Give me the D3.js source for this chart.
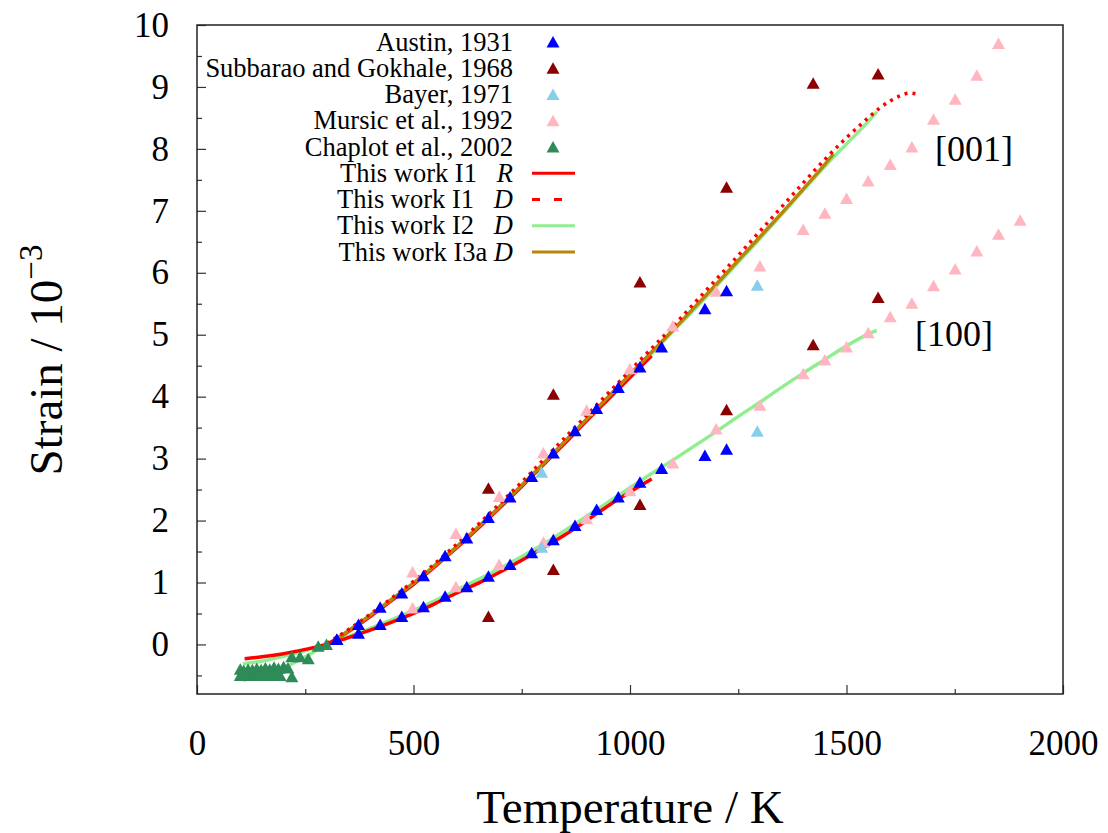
<!DOCTYPE html>
<html>
<head>
<meta charset="utf-8">
<script src="https://cdn.jsdelivr.net/npm/d3@7"></script>
<style>
  body { margin: 0; background: #fff; }
  text { font-family: 'Liberation Serif', Tinos, 'Nimbus Roman', 'Times New Roman', Times, 'DejaVu Serif', serif; fill: #000; }
  .legend-text { white-space: pre; }
</style>
</head>
<body>
<svg id="svg-chart" width="1108" height="833"></svg>
<script>
//////////////////////////////////////////////////////////////////////////////////////////
// Data
//////////////////////////////////////////////////////////////////////////////////////////
var x_ticks = [0, 500, 1000, 1500, 2000]
var x_minor_ticks = [250, 750, 1250, 1750]
var y_ticks = [0, 1, 2, 3, 4, 5, 6, 7, 8, 9, 10]
var y_minor_ticks = [-0.5, 0.5, 1.5, 2.5, 3.5, 4.5, 5.5, 6.5, 7.5, 8.5, 9.5]

// Austin, 1931
var austin_t = [323, 373, 423, 473, 523, 573, 623, 673, 723, 773, 823, 873, 923, 973, 1023, 1073, 1173, 1223]
var austin_001 = [0.08, 0.32, 0.60, 0.83, 1.11, 1.43, 1.72, 2.05, 2.38, 2.71, 3.09, 3.45, 3.81, 4.15, 4.48, 4.80, 5.42, 5.71]
var austin_100 = [0.08, 0.18, 0.32, 0.45, 0.61, 0.78, 0.93, 1.10, 1.29, 1.48, 1.69, 1.92, 2.18, 2.38, 2.62, 2.84, 3.05, 3.15]

// Subbarao and Gokhale, 1968
var subbarao_t = [673, 823, 1023, 1223, 1423, 1573]
var subbarao_001 = [2.52, 4.04, 5.85, 7.38, 9.06, 9.21]
var subbarao_100 = [0.45, 1.21, 2.26, 3.79, 4.84, 5.60]

// Bayer, 1971
var bayer_t = [796, 1294]
var bayer_001 = [2.78, 5.80]
var bayer_100 = [1.57, 3.44]

// Mursic et al., 1992
var mursic_t_001 = [498, 598, 698, 800, 900, 1000, 1099, 1199, 1300, 1400, 1450, 1500, 1550, 1601, 1651, 1701, 1751, 1801, 1851]
var mursic_001 = [1.17, 1.79, 2.39, 3.09, 3.78, 4.45, 5.14, 5.70, 6.11, 6.70, 6.96, 7.20, 7.48, 7.75, 8.03, 8.48, 8.80, 9.19, 9.70]
var mursic_t_100 = [498, 598, 698, 800, 900, 1000, 1099, 1199, 1300, 1400, 1450, 1500, 1550, 1601, 1651, 1701, 1751, 1801, 1851, 1901]
var mursic_100 = [0.59, 0.93, 1.29, 1.65, 2.03, 2.48, 2.93, 3.48, 3.86, 4.37, 4.59, 4.80, 5.03, 5.29, 5.51, 5.79, 6.06, 6.35, 6.62, 6.85]

// Chaplot et al., 2002
var chaplot_t = [100, 112, 126, 140, 153, 166, 180, 192, 219, 100, 108, 118, 128, 138, 148, 158, 168, 178, 188, 200, 210, 219, 238, 257, 280, 299]
var chaplot_s = [-0.50, -0.49, -0.50, -0.49, -0.50, -0.48, -0.50, -0.50, -0.52, -0.40, -0.42, -0.40, -0.41, -0.39, -0.41, -0.38, -0.40, -0.37, -0.39, -0.36, -0.38, -0.20, -0.20, -0.23, -0.03, 0.00]

// This work I1 R
var i1r_t_001 = [300, 350, 400, 450, 500, 550, 600, 650, 700, 750, 800, 850, 900, 950, 1000, 1050]
var i1r_001 = [0.00, 0.21, 0.45, 0.71, 0.97, 1.26, 1.56, 1.88, 2.21, 2.55, 2.90, 3.25, 3.61, 3.96, 4.31, 4.66]
var i1r_t_100 = [110, 150, 200, 250, 300, 350, 400, 450, 500, 550, 600, 650, 700, 750, 800, 850, 900, 950, 1000, 1050]
var i1r_100 = [-0.23, -0.20, -0.15, -0.08, 0.00, 0.11, 0.23, 0.36, 0.50, 0.66, 0.83, 0.99, 1.17, 1.36, 1.56, 1.77, 2.00, 2.24, 2.46, 2.67]

// This work I1 D
var i1d_t_001 = [300, 350, 400, 450, 500, 550, 600, 650, 700, 750, 800, 850, 900, 950, 1000, 1050, 1100, 1150, 1200, 1250, 1300, 1350, 1400, 1450, 1500, 1550, 1575, 1600, 1625, 1645, 1666]
var i1d_001 = [0.02, 0.24, 0.49, 0.75, 1.02, 1.31, 1.62, 1.94, 2.28, 2.62, 2.98, 3.34, 3.70, 4.06, 4.42, 4.78, 5.14, 5.52, 5.90, 6.28, 6.67, 7.06, 7.45, 7.83, 8.18, 8.50, 8.65, 8.77, 8.86, 8.90, 8.88]

// This work I2 D
var i2d_t_001 = [106, 150, 200, 250, 300, 350, 400, 450, 500, 550, 600, 650, 700, 750, 800, 850, 900, 950, 1000, 1050, 1100, 1150, 1200, 1250, 1300, 1350, 1400, 1450, 1500, 1550, 1570]
var i2d_001 = [-0.58, -0.50, -0.38, -0.20, 0.00, 0.22, 0.47, 0.73, 0.99, 1.28, 1.58, 1.90, 2.23, 2.57, 2.92, 3.28, 3.63, 3.98, 4.34, 4.70, 5.06, 5.42, 5.79, 6.17, 6.55, 6.94, 7.33, 7.72, 8.08, 8.44, 8.60]
var i2d_t_100 = [106, 150, 200, 250, 300, 350, 400, 450, 500, 550, 600, 650, 700, 750, 800, 850, 900, 950, 1000, 1050, 1100, 1150, 1200, 1250, 1300, 1350, 1400, 1450, 1500, 1550, 1570]
var i2d_100 = [-0.31, -0.27, -0.19, -0.10, 0.01, 0.13, 0.26, 0.40, 0.55, 0.71, 0.88, 1.05, 1.23, 1.42, 1.62, 1.84, 2.07, 2.30, 2.53, 2.76, 2.98, 3.21, 3.44, 3.68, 3.91, 4.15, 4.38, 4.60, 4.82, 5.01, 5.07]

// This work I3a D
var i3a_t_001 = [320, 350, 400, 450, 500, 550, 600, 650, 700, 750, 800, 850, 900, 950, 1000, 1050, 1100, 1150, 1200, 1250, 1300, 1350, 1400, 1450, 1470]
var i3a_001 = [0.08, 0.22, 0.47, 0.73, 0.99, 1.28, 1.58, 1.90, 2.23, 2.57, 2.92, 3.28, 3.64, 4.00, 4.36, 4.72, 5.08, 5.45, 5.82, 6.20, 6.58, 6.96, 7.35, 7.75, 7.92]

//////////////////////////////////////////////////////////////////////////////////////////
// Layout
//////////////////////////////////////////////////////////////////////////////////////////
var font = "'Liberation Serif', Tinos, 'Nimbus Roman', 'Times New Roman', Times, 'DejaVu Serif', serif"
var frame = {'left': 197, 'right': 1063, 'top': 25, 'bottom': 694}

var x = d3.scaleLinear().domain([0, 2000]).range([frame['left'], frame['right']])
var y = d3.scaleLinear().domain([-0.8, 10]).range([frame['bottom'], frame['top']])

var colors = {
  'austin': '#0000ff',
  'subbarao': '#8b0000',
  'bayer': '#87ceeb',
  'mursic': '#ffb6c1',
  'chaplot': '#2e8b57',
  'i1': '#ff0000',
  'i2': '#90ee90',
  'i3a': '#b8860b'
}

var svg = d3.select('#svg-chart')

function zip(ts, ss) {
  return ts.map(function(t, i) { return [t, ss[i]] })
}

var triangle = 'M0,-6 L6.5,5.5 L-6.5,5.5 Z'

//////////////////////////////////////////////////////////////////////////////////////////
// Draw
//////////////////////////////////////////////////////////////////////////////////////////
draw_axes()
draw_lines()
draw_points()
draw_frame()
draw_legend()
draw_labels()

function draw_axes() {
  var g_x = svg.append('g').attr('transform', 'translate(0,' + frame['bottom'] + ')')
  g_x.call(d3.axisBottom(x).tickValues(x_ticks).tickFormat(d3.format('d')).tickSize(-9).tickPadding(36))
  g_x.append('g').call(d3.axisBottom(x).tickValues(x_minor_ticks).tickSize(-5).tickFormat(''))

  var g_y = svg.append('g').attr('transform', 'translate(' + frame['left'] + ',0)')
  g_y.call(d3.axisLeft(y).tickValues(y_ticks).tickFormat(d3.format('d')).tickSize(-9).tickPadding(28))
  g_y.append('g').call(d3.axisLeft(y).tickValues(y_minor_ticks).tickSize(-5).tickFormat(''))

  svg.selectAll('.domain').remove()
  svg.selectAll('g').attr('font-family', null)
  svg.selectAll('.tick line').attr('stroke', '#333').attr('stroke-width', 1.2)
  svg.selectAll('.tick text')
    .style('font-family', font)
    .attr('font-size', 35)
}

function draw_lines() {
  var line = d3.line()
    .x(function(d) { return x(d[0]) })
    .y(function(d) { return y(d[1]) })
    .curve(d3.curveMonotoneX)

  var series = [
    {'data': zip(i2d_t_001, i2d_001), 'color': colors['i2'], 'dash': null},
    {'data': zip(i2d_t_100, i2d_100), 'color': colors['i2'], 'dash': null},
    {'data': zip(i1r_t_001, i1r_001), 'color': colors['i1'], 'dash': null},
    {'data': zip(i1r_t_100, i1r_100), 'color': colors['i1'], 'dash': null},
    {'data': zip(i3a_t_001, i3a_001), 'color': colors['i3a'], 'dash': null},
    {'data': zip(i1d_t_001, i1d_001), 'color': colors['i1'], 'dash': '3 5'}
  ]

  svg.append('g')
    .selectAll('path')
    .data(series)
    .enter()
    .append('path')
    .attr('d', function(d) { return line(d.data) })
    .attr('fill', 'none')
    .attr('stroke', function(d) { return d.color })
    .attr('stroke-width', 3.5)
    .attr('stroke-dasharray', function(d) { return d.dash })
}

function draw_points() {
  var sets = [
    {'data': zip(mursic_t_001, mursic_001).concat(zip(mursic_t_100, mursic_100)), 'color': colors['mursic']},
    {'data': zip(bayer_t, bayer_001).concat(zip(bayer_t, bayer_100)), 'color': colors['bayer']},
    {'data': zip(subbarao_t, subbarao_001).concat(zip(subbarao_t, subbarao_100)), 'color': colors['subbarao']},
    {'data': zip(chaplot_t, chaplot_s), 'color': colors['chaplot']},
    {'data': zip(austin_t, austin_001).concat(zip(austin_t, austin_100)), 'color': colors['austin']}
  ]

  sets.forEach(function(set) {
    svg.append('g')
      .selectAll('path')
      .data(set.data)
      .enter()
      .append('path')
      .attr('d', triangle)
      .attr('transform', function(d) { return 'translate(' + x(d[0]) + ',' + y(d[1]) + ')' })
      .attr('fill', set.color)
  })
}

function draw_frame() {
  svg.append('rect')
    .attr('x', frame['left'])
    .attr('y', frame['top'])
    .attr('width', frame['right'] - frame['left'])
    .attr('height', frame['bottom'] - frame['top'])
    .attr('fill', 'none')
    .attr('stroke', '#222')
    .attr('stroke-width', 1.5)
}

function draw_legend() {
  var rows = [
    {'label': 'Austin, 1931', 'italic': '', 'kind': 'point', 'color': colors['austin']},
    {'label': 'Subbarao and Gokhale, 1968', 'italic': '', 'kind': 'point', 'color': colors['subbarao']},
    {'label': 'Bayer, 1971', 'italic': '', 'kind': 'point', 'color': colors['bayer']},
    {'label': 'Mursic et al., 1992', 'italic': '', 'kind': 'point', 'color': colors['mursic']},
    {'label': 'Chaplot et al., 2002', 'italic': '', 'kind': 'point', 'color': colors['chaplot']},
    {'label': 'This work I1   ', 'italic': 'R', 'kind': 'line', 'color': colors['i1']},
    {'label': 'This work I1   ', 'italic': 'D', 'kind': 'dash', 'color': colors['i1']},
    {'label': 'This work I2   ', 'italic': 'D', 'kind': 'line', 'color': colors['i2']},
    {'label': 'This work I3a ', 'italic': 'D', 'kind': 'line', 'color': colors['i3a']}
  ]

  var g = svg.append('g').attr('id', 'g-legend')

  rows.forEach(function(row, i) {
    var cy = 42 + i * 26.25
    var txt = g.append('text')
      .attr('class', 'legend-text')
      .attr('x', 513)
      .attr('y', cy + 8.5)
      .attr('text-anchor', 'end')
      .attr('font-size', 26.5)
    txt.append('tspan').text(row.label)
    if (row.italic) txt.append('tspan').attr('font-style', 'italic').text(row.italic)

    if (row.kind == 'point') {
      g.append('path')
        .attr('d', triangle)
        .attr('transform', 'translate(553,' + cy + ')')
        .attr('fill', row.color)
    } else {
      g.append('line')
        .attr('x1', 532).attr('x2', 575)
        .attr('y1', cy).attr('y2', cy)
        .attr('stroke', row.color)
        .attr('stroke-width', 3)
        .attr('stroke-dasharray', row.kind == 'dash' ? '8 14' : null)
    }
  })
}

function draw_labels() {
  svg.append('text')
    .attr('x', (frame['left'] + frame['right']) / 2)
    .attr('y', 823)
    .attr('text-anchor', 'middle')
    .attr('font-size', 47)
    .text('Temperature / K')

  var yl = svg.append('text')
    .attr('transform', 'translate(62,360) rotate(-90)')
    .attr('text-anchor', 'middle')
    .attr('font-size', 47)
  yl.append('tspan').text('Strain / 10')
  yl.append('tspan').attr('dy', -20).attr('font-size', 33).text('\u22123')

  svg.append('text').attr('x', 935).attr('y', 161).attr('font-size', 36).text('[001]')
  svg.append('text').attr('x', 915).attr('y', 346).attr('font-size', 36).text('[100]')
}
</script>
</body>
</html>
